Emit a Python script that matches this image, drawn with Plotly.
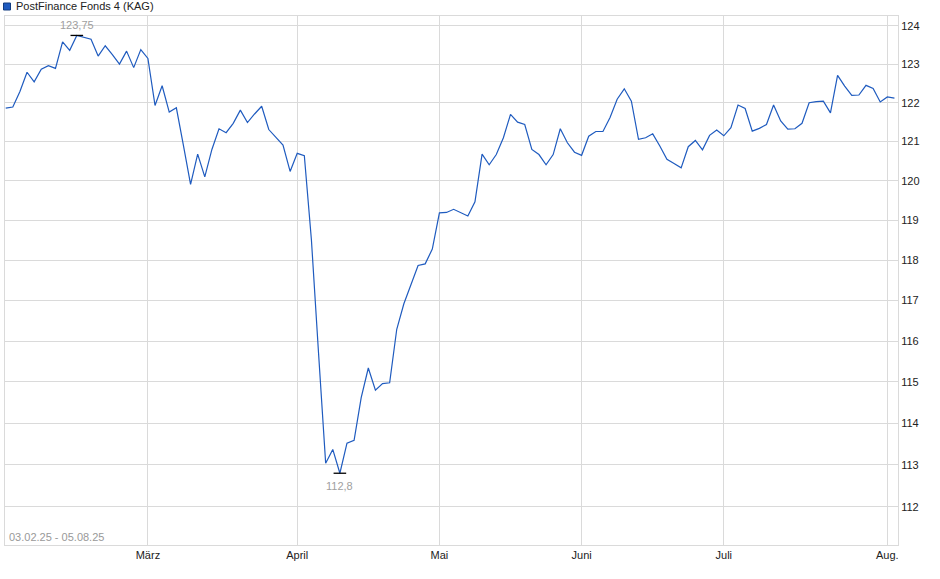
import numpy as np
import pandas as pd
import plotly.graph_objects as go

# Handelstage 03.02.25 - 05.08.25 (ohne Feiertage)
holidays = ["2025-04-18", "2025-04-21", "2025-05-01", "2025-05-29", "2025-06-09", "2025-08-01"]
days = pd.bdate_range("2025-02-03", "2025-08-05")
days = days[~days.isin(pd.to_datetime(holidays))]
dates = [d.strftime("%Y-%m-%d") for d in days]

# Kurse pro Monat
feb = [121.86, 121.89, 122.29, 122.79, 122.54, 122.87, 122.96, 122.89, 123.58, 123.36,
       123.75, 123.69, 123.65, 123.21, 123.48, 123.25, 123.00, 123.34, 122.91, 123.38]
mar = [123.15, 121.93, 122.44, 121.76, 121.87, 120.90, 119.91, 120.68, 120.10, 120.80,
       121.33, 121.23, 121.47, 121.81, 121.49, 121.71, 121.91, 121.31, 121.12, 120.91, 120.24]
apr = [120.70, 120.64, 118.50, 115.70, 113.04, 113.37, 112.80, 113.52, 113.59, 114.62,
       115.34, 114.80, 114.96, 114.98, 116.29, 116.92, 117.37, 117.87, 117.91, 118.28]
may = [119.19, 119.20, 119.28, 119.20, 119.11, 119.47, 120.68, 120.41, 120.67, 121.10,
       121.70, 121.50, 121.44, 120.80, 120.67, 120.41, 120.67, 121.33, 120.97, 120.73]
jun = [120.65, 121.14, 121.26, 121.26, 121.62, 122.09, 122.36, 122.04, 121.06, 121.10,
       121.20, 120.89, 120.55, 120.44, 120.33, 120.87, 121.03, 120.79, 121.16, 121.30]
jul = [121.15, 121.36, 121.94, 121.85, 121.27, 121.34, 121.44, 121.94, 121.53, 121.32,
       121.33, 121.47, 122.00, 122.03, 122.04, 121.74, 122.71, 122.43, 122.19, 122.20,
       122.45, 122.37, 122.02]
aug = [122.15, 122.12]
values = feb + mar + apr + may + jun + jul + aug

month_labels = ["März", "April", "Mai", "Juni", "Juli", "Aug."]
y_ticks = list(range(112, 125))

# erster Handelstag je Monat (ab März)
month_first = []
for m in [3, 4, 5, 6, 7, 8]:
    month_first.append(next(d for d in dates if int(d[5:7]) == m))

i_max = int(np.argmax(values))
i_min = int(np.argmin(values))

blue = "#1f5bbf"
grid = "#dadada"
font = "Liberation Sans, Arial, sans-serif"

fig = go.Figure()
fig.add_trace(go.Scatter(x=dates, y=values, mode="lines",
                         line=dict(color=blue, width=1.2), showlegend=False,
                         hoverinfo="x+y"))
fig.add_trace(go.Scatter(x=[dates[i_max], dates[i_min]], y=[values[i_max], values[i_min]],
                         mode="markers", showlegend=False, hoverinfo="skip",
                         marker=dict(symbol="line-ew", size=9,
                                     line=dict(color="black", width=1.3))))

def de_num(v):
    s = ("%.2f" % v).rstrip("0").rstrip(".")
    return s.replace(".", ",")

ann = dict(showarrow=False, font=dict(family=font, size=11, color="#a0a0a0"))
fig.add_annotation(x=dates[i_max], y=np.log10(values[i_max]), text=de_num(values[i_max]),
                   yanchor="bottom", yshift=2, **ann)
fig.add_annotation(x=dates[i_min], y=np.log10(values[i_min]), text=de_num(values[i_min]),
                   yanchor="top", yshift=-5, **ann)
fig.add_annotation(x=0, y=0, xref="paper", yref="paper", xanchor="left", yanchor="bottom",
                   xshift=2, yshift=0, showarrow=False,
                   text=pd.Timestamp(dates[0]).strftime("%d.%m.%y") + " - "
                   + pd.Timestamp(dates[-1]).strftime("%d.%m.%y"),
                   font=dict(family=font, size=11, color="#999999"))

# Legende oben links
W, H, L, R, T, B = 940, 579, 5, 42, 16, 34
pw, ph = W - L - R, H - T - B
px_ = lambda p: (p - L) / pw
py_ = lambda p: (H - B - p) / ph
fig.add_shape(type="rect", xref="paper", yref="paper",
              x0=px_(3.5), x1=px_(10.5), y0=py_(10), y1=py_(3),
              fillcolor=blue, line=dict(color="#123c80", width=1))
fig.add_annotation(x=px_(14), y=py_(6.5), xref="paper", yref="paper",
                   xanchor="left", yanchor="middle", showarrow=False,
                   text="PostFinance Fonds 4 (KAG)",
                   font=dict(family=font, size=11, color="#222222"))

fig.update_layout(
    width=W, height=H,
    margin=dict(l=L, r=R, t=T, b=B),
    plot_bgcolor="white", paper_bgcolor="white",
    font=dict(family=font, size=11, color="#222222"),
    xaxis=dict(type="category", range=[-0.1, len(dates) - 0.5],
               tickvals=month_first, ticktext=month_labels,
               showgrid=True, gridcolor=grid, gridwidth=1,
               showline=True, linecolor=grid, mirror=True,
               ticks="", zeroline=False),
    yaxis=dict(type="log", side="right",
               range=[np.log10(111.1), np.log10(124.26)],
               tickvals=y_ticks, ticktext=[str(t) for t in y_ticks],
               showgrid=True, gridcolor=grid, gridwidth=1,
               showline=True, linecolor=grid, mirror=True,
               ticks="", zeroline=False),
)

fig.write_html("out.html", config={"displayModeBar": False},
               post_script="document.body.style.margin='0';")
